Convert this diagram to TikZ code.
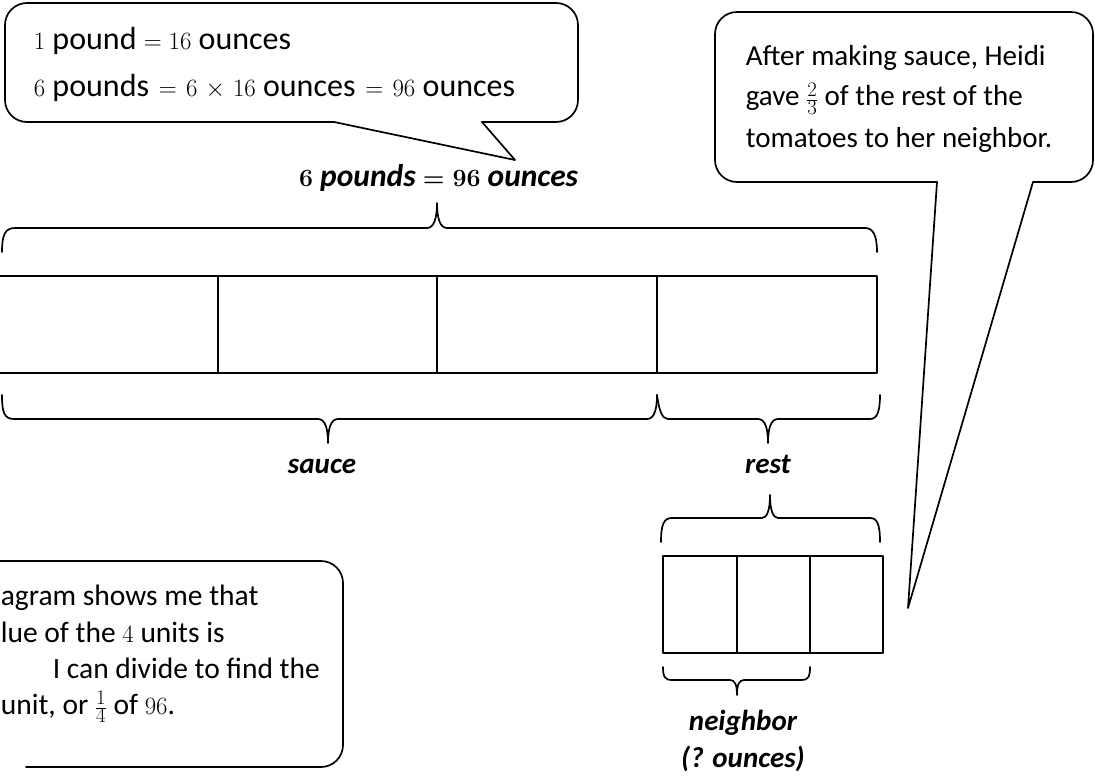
\documentclass[tikz,border=0pt]{standalone}
\usepackage{fontspec}
\setmainfont{Carlito}
\begin{document}
\begin{tikzpicture}[x=1pt,y=-1pt,line width=1.7pt,line join=round,line cap=round,
  txt/.style={font=\fontsize{29}{36}\selectfont,inner sep=0pt,text height=20pt,text depth=6pt},
  bigtxt/.style={font=\fontsize{32}{38}\selectfont,inner sep=0pt,text height=22pt,text depth=7pt},
  midtxt/.style={font=\fontsize{29.5}{36}\selectfont,inner sep=0pt,text height=20pt,text depth=6pt},
  lbl/.style={font=\fontsize{29}{36}\selectfont\bfseries\itshape,inner sep=0pt,text height=20pt,text depth=6pt},
  biglbl/.style={font=\fontsize{31.5}{36}\selectfont\bfseries\itshape\boldmath,inner sep=0pt},
  cbox/.style={draw,rounded corners=22pt},
  brace/.style={line width=1.7pt},
  bar/.style={draw,line width=1.7pt}]
\useasboundingbox (0,0) rectangle (1095,776);

% top callout
\draw[cbox] (334,122) -- (5,122) -- (5,3) -- (578,3) -- (578,122) -- (482,122);
\draw (482,122) -- (515,160) -- (334,122);
\node[bigtxt,anchor=base west] (t1) at (33,50) {$1$ pound $=16$ ounces};
\node[bigtxt,anchor=base west] (t2) at (33,96) {$6$ pounds $\hspace{2.5pt}=\hspace{2.5pt}6\hspace{2.5pt}\times\hspace{2.5pt}16$ ounces $\hspace{2.5pt}=\hspace{2.5pt}96$ ounces};

% right callout
\draw[cbox] (937,182) -- (715,182) -- (715,12) -- (1093,12) -- (1093,182) -- (1033,182);
\draw (1033,182) -- (908,608) -- (937,182);
\node[txt,anchor=base west] (r1) at (745,66) {After making sauce, Heidi};
\node[txt,anchor=base west] (r2) at (745,106) {gave $\frac{2}{3}$ of the rest of the};
\node[txt,anchor=base west] (r3) at (745,147) {tomatoes to her neighbor.};

% bottom-left callout
\draw[cbox] (-20,561) -- (343,561) -- (343,767) -- (26,767);
\node[midtxt,anchor=base west] (b1) at (0,605) {agram shows me that};
\node[midtxt,anchor=base west] (b2) at (0,642) {lue of the $4$ units is};
\node[midtxt,anchor=base west] (b3) at (52,678) {I can divide to find the};
\node[midtxt,anchor=base west] (b4) at (0,714) {unit, or $\frac{1}{4}$ of $96$.};

% label above
\node[biglbl,anchor=base east] (whole) at (579,186) {$6$ pounds $=96$ ounces};

% top brace
\draw[brace] (2,252) .. controls (2,235) and (5,228) .. (15,228) -- (427,228)
  .. controls (434,228) and (437,218) .. (437,203)
  .. controls (437,218) and (440,228) .. (447,228) -- (865,228)
  .. controls (873,228) and (877,235) .. (877,252);

% main bar
\draw[bar] (-5,276) rectangle (877,373);
\draw (218,276) -- (218,373);
\draw (437,276) -- (437,373);
\draw (657,276) -- (657,373);

% sauce brace
\draw[brace] (2,395) .. controls (2,412) and (4,419) .. (14,419) -- (318,419)
  .. controls (325,419) and (328,428) .. (328,443)
  .. controls (328,428) and (331,419) .. (338,419) -- (647,419)
  .. controls (654,419) and (657,410) .. (657,395);
% rest brace
\draw[brace] (657,395) .. controls (659,410) and (662,419) .. (668,419) -- (758,419)
  .. controls (765,419) and (768,428) .. (768,443)
  .. controls (768,428) and (771,419) .. (778,419) -- (870,419)
  .. controls (877,419) and (880,412) .. (880,395);
\node[lbl,anchor=base] (sauce) at (322,473) {sauce};
\node[lbl,anchor=base] (rest) at (768,473) {rest};

% small brace above
\draw[brace] (661,542) .. controls (661,524) and (664,518) .. (672,518) -- (762,518)
  .. controls (767,518) and (770,510) .. (770,495)
  .. controls (770,510) and (773,518) .. (778,518) -- (870,518)
  .. controls (877,518) and (880,524) .. (880,542);
% small bar
\draw[bar] (663,556) rectangle (883,653);
\draw (737,556) -- (737,653);
\draw (810,556) -- (810,653);
% neighbor brace
\draw[brace] (663,667) .. controls (663,677) and (665,680) .. (672,680) -- (730,680)
  .. controls (735,680) and (737,685) .. (737,695)
  .. controls (737,685) and (739,680) .. (744,680) -- (802,680)
  .. controls (808,680) and (810,677) .. (810,667);
\node[lbl,anchor=base] (nb) at (743,730) {neighbor};
\node[lbl,anchor=base] (nq) at (743,767) {(? ounces)};
\end{tikzpicture}
\end{document}
